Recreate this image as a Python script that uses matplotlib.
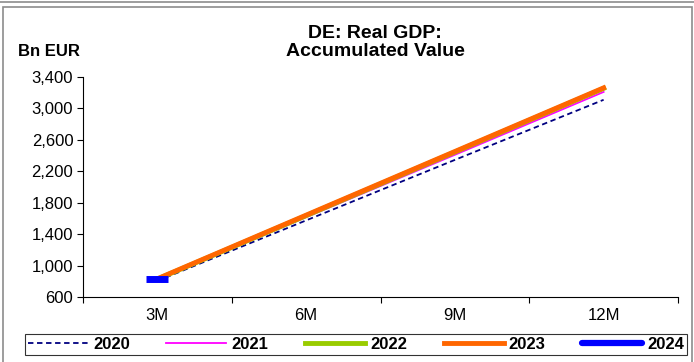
import numpy as np
import matplotlib
matplotlib.use("Agg")
from matplotlib import pyplot as plt
from matplotlib.patches import Rectangle
from matplotlib.lines import Line2D

categories = ['3M', '6M', '9M', '12M']
gdp_2020 = [805, 1575, 2345, 3110]
gdp_2021 = [820, 1615, 2410, 3210]
gdp_2022 = [828, 1635, 2445, 3255]
gdp_2023 = [832, 1642, 2452, 3262]
gdp_2024 = [825]

yticks = [600, 1000, 1400, 1800, 2200, 2600, 3000, 3400]

plt.rcParams['font.family'] = ['Liberation Sans', 'DejaVu Sans']

fig = plt.figure(figsize=(6.94, 3.62), dpi=100)
ax = fig.add_axes([83/694, 65/362, 595/694, 220/362])

xs = np.arange(len(categories))
ax.plot(xs, gdp_2020, color='#000080', lw=1.3, ls=(0, (3, 2)), label='2020')
ax.plot(xs, gdp_2021, color='#FF00FF', lw=1.3, label='2021')
ax.plot(xs, gdp_2022, color='#99CC00', lw=3.5, label='2022')
ax.plot(xs, gdp_2023, color='#FF6600', lw=3.5, label='2023')
ax.plot(xs[:len(gdp_2024)], gdp_2024, color='#0000FF', lw=4.5, marker='_',
        ms=16, mew=5, label='2024')

ax.set_xlim(-0.5, 3.5)
ax.set_ylim(600, 3400)
ax.set_yticks(yticks)
ax.set_yticklabels([f'{v:,}' for v in yticks], fontsize=12)
ax.set_xticks(xs)
ax.set_xticklabels(categories, fontsize=12)
ax.set_xticks(np.arange(-0.5, 3.6, 1), minor=True)
ax.tick_params(axis='x', which='major', length=0, pad=8)
ax.tick_params(axis='x', which='minor', length=4, direction='out', width=0.8)
ax.tick_params(axis='y', length=4, width=0.8, pad=3)
for s in ['top', 'right']:
    ax.spines[s].set_visible(False)
for s in ['left', 'bottom']:
    ax.spines[s].set_linewidth(0.8)

fig.text(375/694, 1 - 42.5/362, 'DE: Real GDP:\nAccumulated Value', ha='center',
         va='center', fontsize=14, fontweight='bold', linespacing=1.15)
fig.text(18/694, 1 - 52/362, 'Bn EUR', ha='left', va='center', fontsize=12,
         fontweight='bold')

handles = [Line2D([], [], color='#000080', lw=1.3, ls=(0, (3, 2))),
           Line2D([], [], color='#FF00FF', lw=1.3),
           Line2D([], [], color='#99CC00', lw=3.5),
           Line2D([], [], color='#FF6600', lw=3.5),
           Line2D([], [], color='#0000FF', lw=4.5, solid_capstyle='round')]
leg = fig.legend(handles, ['2020', '2021', '2022', '2023', '2024'], ncol=5,
                 loc='center', bbox_to_anchor=(356/694, 1 - 344.5/362),
                 fancybox=False, edgecolor='black', handlelength=3.6,
                 columnspacing=2.2, handletextpad=0.3, borderpad=0.2,
                 prop={'weight': 'bold', 'size': 12})
leg.get_frame().set_linewidth(0.8)

# outer frame
fig.add_artist(Line2D([0, 1], [1 - 1.5/362, 1 - 1.5/362], color='#8c8c8c', lw=1.2,
                      transform=fig.transFigure))
fig.add_artist(Rectangle((3/694, -0.05), 689/694, 1.05 - 7/362, fill=False,
                         edgecolor='#8c8c8c', lw=1.2, transform=fig.transFigure))

fig.savefig('out.png', dpi=100)
